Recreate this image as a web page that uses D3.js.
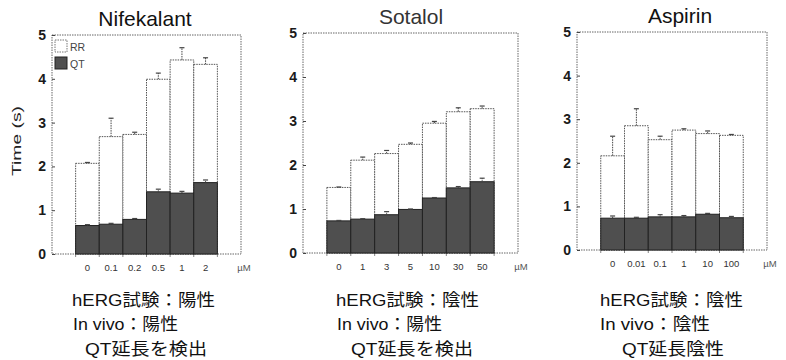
<!DOCTYPE html>
<html><head><meta charset="utf-8">
<script src="https://cdn.jsdelivr.net/npm/d3@7"></script>
<style>
html,body{margin:0;padding:0;background:#fff;}
svg{display:block;}
</style></head>
<body>
<svg id="chart" width="786" height="360"></svg>
<script>
// ---------- data ----------
const yTicks = [0, 1, 2, 3, 4, 5];
const unitLabel = "µM";
const legendLabels = ["RR", "QT"];
const yAxisLabel = "Time (s)";

const titles = ["Nifekalant", "Sotalol", "Aspirin"];

const nifCats  = ["0", "0.1", "0.2", "0.5", "1", "2"];
const nifRR    = [2.07, 2.68, 2.73, 3.99, 4.43, 4.33];
const nifRRerr = [0.02, 0.42, 0.05, 0.14, 0.28, 0.15];
const nifQT    = [0.65, 0.68, 0.79, 1.42, 1.39, 1.63];
const nifQTerr = [0.02, 0.02, 0.02, 0.06, 0.04, 0.06];

const sotCats  = ["0", "1", "3", "5", "10", "30", "50"];
const sotRR    = [1.49, 2.11, 2.26, 2.47, 2.95, 3.21, 3.28];
const sotRRerr = [0.01, 0.07, 0.07, 0.03, 0.04, 0.09, 0.06];
const sotQT    = [0.73, 0.77, 0.87, 0.99, 1.25, 1.48, 1.62];
const sotQTerr = [0.01, 0.01, 0.07, 0.01, 0.01, 0.03, 0.08];

const aspCats  = ["0", "0.01", "0.1", "1", "10", "100"];
const aspRR    = [2.16, 2.85, 2.53, 2.75, 2.67, 2.63];
const aspRRerr = [0.45, 0.39, 0.08, 0.03, 0.06, 0.02];
const aspQT    = [0.73, 0.73, 0.76, 0.76, 0.82, 0.74];
const aspQTerr = [0.05, 0.02, 0.05, 0.03, 0.02, 0.03];

const noteLines = [
  [["hERG", "試験：陽性"], ["In vivo", "：陽性"], ["QT", "延長を検出"]],
  [["hERG", "試験：陰性"], ["In vivo", "：陽性"], ["QT", "延長を検出"]],
  [["hERG", "試験：陰性"], ["In vivo", "：陰性"], ["QT", "延長陰性"]]
];

// ---------- layout ----------
const panels = [
  {x0: 52,  x1: 241, yTop: 35, yBot: 254, titleX: 145, titleY: 26, cats: nifCats, rr: nifRR, rrErr: nifRRerr, qt: nifQT, qtErr: nifQTerr, legend: true, ylabel: true,
   notes: {xs: [72, 73, 85], widths: [143, 105, 122]}},
  {x0: 303, x1: 518, yTop: 33, yBot: 253, titleX: 411, titleY: 24, cats: sotCats, rr: sotRR, rrErr: sotRRerr, qt: sotQT, qtErr: sotQTerr,
   notes: {xs: [336, 337, 351], widths: [143, 105, 122]}},
  {x0: 577, x1: 767, yTop: 32, yBot: 250, titleX: 680, titleY: 23, cats: aspCats, rr: aspRR, rrErr: aspRRerr, qt: aspQT, qtErr: aspQTerr,
   notes: {xs: [600, 600, 622], widths: [143, 110, 102]}}
];
const noteBaselines = [306, 330, 355];

const svg = d3.select("#chart");
const latin = "'Liberation Sans', Arial, Helvetica, sans-serif";
const cjk = "'Noto Sans CJK JP', 'Noto Sans CJK SC', sans-serif";

panels.forEach((p, pi) => {
  const g = svg.append("g");
  const n = p.cats.length;
  const slot = (p.x1 - p.x0) / (n + 2);
  const x = d3.scaleBand().domain(p.cats).range([p.x0 + slot, p.x1 - slot]).padding(0);
  const y = d3.scaleLinear().domain([0, 5]).range([p.yBot, p.yTop]);

  // frame
  g.append("rect")
    .attr("x", p.x0).attr("y", p.yTop)
    .attr("width", p.x1 - p.x0).attr("height", p.yBot - p.yTop)
    .attr("fill", "none").attr("stroke", "#666").attr("stroke-width", 1)
    .attr("stroke-dasharray", "1.5,1");

  // y axis
  const yAxis = d3.axisLeft(y).tickValues(yTicks).tickFormat(d3.format("d")).tickSize(-3).tickPadding(6);
  const ya = g.append("g").attr("transform", `translate(${p.x0},0)`).call(yAxis);
  ya.select(".domain").remove();
  ya.selectAll(".tick line").attr("stroke", "#444");
  ya.selectAll(".tick text").attr("font-family", latin).attr("font-size", 14)
    .attr("fill", "#1a1a1a").attr("font-weight", "bold");

  // x axis labels
  const xAxis = d3.axisBottom(x).tickSize(0).tickPadding(10);
  const xa = g.append("g").attr("transform", `translate(0,${p.yBot})`).call(xAxis);
  xa.select(".domain").remove();
  xa.selectAll(".tick text").attr("font-family", latin).attr("font-size", 9.5).attr("fill", "#333");
  // boundary ticks
  const edges = p.cats.map(c => x(c)).concat([x(p.cats[n - 1]) + x.bandwidth()]);
  g.selectAll(".edge").data(edges).join("line")
    .attr("x1", d => d).attr("x2", d => d)
    .attr("y1", p.yBot).attr("y2", p.yBot + 3)
    .attr("stroke", "#666").attr("stroke-width", 0.8);
  g.append("text").text(unitLabel)
    .attr("x", p.x1 + 3).attr("y", p.yBot + 17).attr("text-anchor", "middle")
    .attr("font-family", latin).attr("font-size", 9.5).attr("fill", "#555");

  const data = p.cats.map((c, i) => ({c, rr: p.rr[i], rrErr: p.rrErr[i], qt: p.qt[i], qtErr: p.qtErr[i]}));

  // RR bars (total height)
  g.selectAll(".rr").data(data).join("rect")
    .attr("x", d => x(d.c)).attr("width", x.bandwidth())
    .attr("y", d => y(d.rr)).attr("height", d => y(0) - y(d.rr))
    .attr("fill", "#fff").attr("stroke", "#555").attr("stroke-width", 1)
    .attr("stroke-dasharray", "1.5,1");

  // QT bars
  g.selectAll(".qt").data(data).join("rect")
    .attr("x", d => x(d.c)).attr("width", x.bandwidth())
    .attr("y", d => y(d.qt)).attr("height", d => y(0) - y(d.qt))
    .attr("fill", "#4f4f4f").attr("stroke", "#222").attr("stroke-width", 1);

  // error bars
  const errs = data.flatMap(d => [{c: d.c, v: d.rr, e: d.rrErr}, {c: d.c, v: d.qt, e: d.qtErr}]);
  const cx = d => x(d.c) + x.bandwidth() / 2;
  g.selectAll(".ev").data(errs).join("line")
    .attr("x1", cx).attr("x2", cx)
    .attr("y1", d => y(d.v)).attr("y2", d => y(d.v + d.e))
    .attr("stroke", "#444").attr("stroke-width", 1).attr("stroke-dasharray", "1.5,1");
  g.selectAll(".ec").data(errs).join("line")
    .attr("x1", d => cx(d) - 2.5).attr("x2", d => cx(d) + 2.5)
    .attr("y1", d => y(d.v + d.e)).attr("y2", d => y(d.v + d.e))
    .attr("stroke", "#444").attr("stroke-width", 1.2);

  // title
  g.append("text").text(titles[pi])
    .attr("x", p.titleX).attr("y", p.titleY).attr("text-anchor", "middle")
    .attr("font-family", latin).attr("font-size", 21).attr("fill", pi === 1 ? "#333" : "#111");

  // legend
  if (p.legend) {
    const lg = g.append("g");
    const fills = ["#fff", "#4f4f4f"];
    const strokes = ["#777", "#222"];
    legendLabels.forEach((lab, i) => {
      const ly = 40 + i * 17;
      lg.append("rect").attr("x", 55).attr("y", ly).attr("width", 12).attr("height", 12)
        .attr("fill", fills[i]).attr("stroke", strokes[i]).attr("stroke-width", 1)
        .attr("stroke-dasharray", i === 0 ? "1.5,1" : null);
      lg.append("text").text(lab).attr("x", 70).attr("y", ly + 11)
        .attr("font-family", latin).attr("font-size", 10.5).attr("fill", "#444");
    });
  }

  // y label
  if (p.ylabel) {
    g.append("text").text(yAxisLabel)
      .attr("transform", "translate(21,141) rotate(-90)")
      .attr("text-anchor", "middle")
      .attr("font-family", latin).attr("font-size", 13).attr("fill", "#222")
      .attr("textLength", 70).attr("lengthAdjust", "spacingAndGlyphs");
  }

  // notes below
  noteLines[pi].forEach((runs, li) => {
    const t = g.append("text")
      .attr("x", p.notes.xs[li]).attr("y", noteBaselines[li])
      .attr("fill", "#111")
      .attr("textLength", p.notes.widths[li]).attr("lengthAdjust", "spacingAndGlyphs");
    runs.forEach((run, ri) => {
      t.append("tspan").text(run)
        .attr("font-family", ri === 0 ? latin : cjk)
        .attr("font-size", 16.5);
    });
  });
});
</script>
</body></html>
